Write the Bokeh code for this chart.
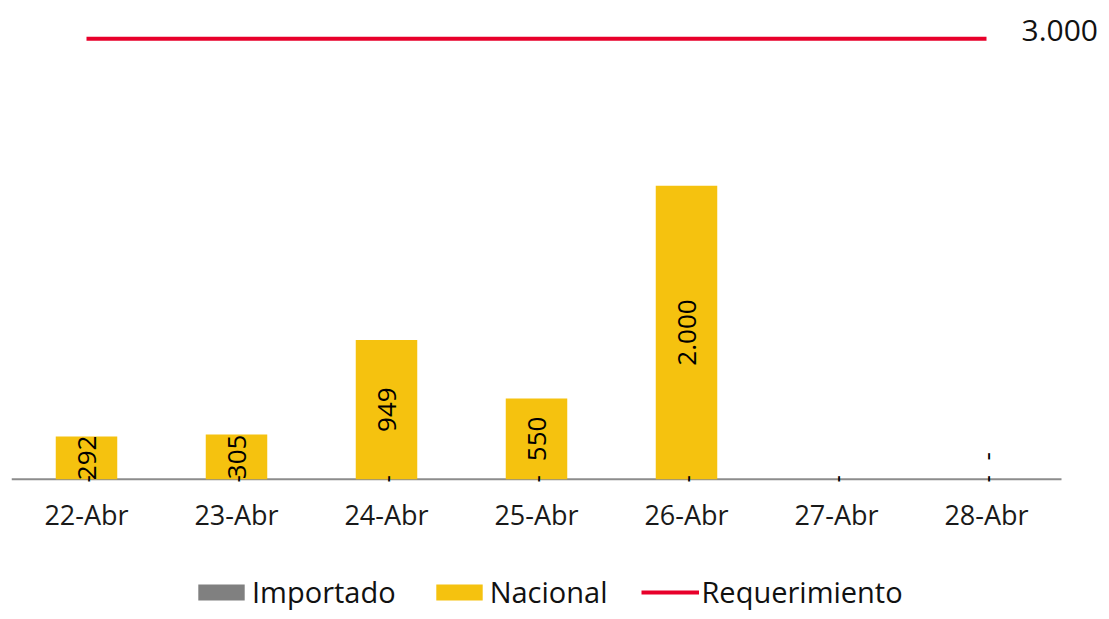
import math
from bokeh.plotting import figure
from bokeh.layouts import column
from bokeh.models import ColumnDataSource, Range1d, Legend, LegendItem, Label, FixedTicker
from bokeh.embed import file_html
from bokeh.resources import INLINE
from bokeh.core.properties import value

# ---- data ----
fechas = ["22-Abr", "23-Abr", "24-Abr", "25-Abr", "26-Abr", "27-Abr", "28-Abr"]
importado = [0, 0, 0, 0, 0, 0, 0]
nacional = [292, 305, 949, 550, 2000, None, 0]
requerimiento = [3000, 3000, 3000, 3000, 3000, 3000, 3000]
req_label = "3.000"
series_names = ["Importado", "Nacional", "Requerimiento"]

FONT = "Open Sans"
GRAY = "#808080"
YELLOW = "#F5C20F"
RED = "#E8002A"


def fmt(v):
    if v is None:
        return ""
    if v == 0:
        return "-"
    return f"{v:,}".replace(",", ".")


idx = list(range(len(fechas)))
nac_vals = [float("nan") if v is None else v for v in nacional]
src = ColumnDataSource(dict(
    x=idx,
    importado=importado,
    nacional=nac_vals,
    imp_y=[i / 2 for i in importado],
    imp_lbl=[fmt(v) for v in importado],
    nac_y=[i + (0 if v is None else v) / 2 for i, v in zip(importado, nacional)],
    nac_lbl=[fmt(v) for v in nacional],
    nac_off=[-23 if v == 0 else 0 for v in nacional],
))
req_src = ColumnDataSource(dict(x=idx, req=requerimiento))

first, last = idx[0] - 0.5, idx[-1] + 0.5
p = figure(x_range=Range1d(first, last + 40 / 150), y_range=Range1d(-15, 3200),
           width=1101, height=560, output_backend="svg", toolbar_location=None,
           min_border_left=11, min_border_right=0, min_border_top=9, min_border_bottom=79)
p.outline_line_color = None
p.grid.visible = False
p.yaxis.visible = False
p.background_fill_color = "white"
p.border_fill_color = "white"

# baseline (category axis line), spanning the categories only
p.segment(x0=[first], x1=[last], y0=[0], y1=[0], line_color="#8C8C8C", line_width=2)

bars = p.vbar_stack(["importado", "nacional"], x="x", width=0.41,
                    color=[GRAY, YELLOW], line_color=None, source=src)
req_line = p.line(x="x", y="req", line_color=RED, line_width=4, source=req_src)

p.text(x="x", y="imp_y", text="imp_lbl", angle=math.pi / 2, text_align="center",
       text_baseline="middle", text_font=value(FONT), text_font_size="26px",
       text_color="black", source=src)
p.text(x="x", y="nac_y", text="nac_lbl", angle=math.pi / 2, text_align="center",
       text_baseline="middle", text_font=value(FONT), text_font_size="26px",
       text_color="black", y_offset="nac_off", source=src)

p.add_layout(Label(x=idx[-1], y=requerimiento[-1], text=req_label, x_offset=35, y_offset=8,
                   text_align="left", text_baseline="middle", text_font=FONT,
                   text_font_size="30px", text_color="#111111"))

ax = p.xaxis[0]
ax.ticker = FixedTicker(ticks=idx)
ax.major_label_overrides = {i: f for i, f in zip(idx, fechas)}
ax.axis_line_color = None
ax.major_tick_line_color = None
ax.minor_tick_line_color = None
ax.major_label_text_font = FONT
ax.major_label_text_font_size = "27px"
ax.major_label_text_color = "#1A1A1A"
ax.major_label_standoff = 8

# ---- legend strip (proxy glyphs kept outside the visible range) ----
q = figure(width=1101, height=51, output_backend="svg", toolbar_location=None,
           x_range=Range1d(0, 1), y_range=Range1d(0, 1),
           x_axis_location=None, y_axis_location=None,
           min_border_left=0, min_border_right=0, min_border_top=0, min_border_bottom=0)
q.outline_line_color = None
q.grid.visible = False
r_imp = q.vbar(x=[-10], top=[-10], width=0.5, color=GRAY, line_color=None)
r_nac = q.vbar(x=[-10], top=[-10], width=0.5, color=YELLOW, line_color=None)
r_req = q.line(x=[-10, -9], y=[-10, -10], line_color=RED, line_width=4)

legend = Legend(items=[
    LegendItem(label=series_names[0], renderers=[r_imp]),
    LegendItem(label=series_names[1], renderers=[r_nac]),
    LegendItem(label=series_names[2], renderers=[r_req]),
], orientation="horizontal", location=(181, 0), glyph_width=58, glyph_height=20,
    label_standoff=2, spacing=34, padding=0, margin=0, border_line_color=None,
    background_fill_alpha=0, label_text_font=FONT, label_text_font_size="29px",
    label_text_color="#111111")
q.add_layout(legend)

layout = column(p, q, spacing=0)
open("out.html", "w").write(file_html(layout, INLINE))
